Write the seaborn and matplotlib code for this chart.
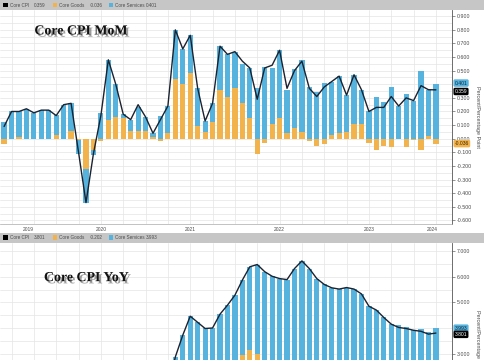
import numpy as np
import pandas as pd
import matplotlib
matplotlib.use("Agg")
import matplotlib.pyplot as plt
import seaborn as sns
from matplotlib.patches import Rectangle
from matplotlib.ticker import MultipleLocator, FixedLocator
import matplotlib.patheffects as pe

# ---------------- data ----------------
months = pd.period_range("2019-05", "2024-03", freq="M").astype(str).tolist()
years = ["2019", "2020", "2021", "2022", "2023", "2024"]

mom_core = [0.09, 0.20, 0.20, 0.22, 0.19, 0.21, 0.21, 0.17,
            0.25, 0.26, -0.10, -0.47, -0.11, 0.17, 0.58, 0.40, 0.18, 0.14, 0.25, 0.16,
            0.04, 0.14, 0.24, 0.80, 0.66, 0.76, 0.37, 0.13, 0.26, 0.68, 0.62, 0.64,
            0.57, 0.52, 0.29, 0.52, 0.54, 0.65, 0.37, 0.50, 0.57, 0.37, 0.31, 0.38,
            0.42, 0.46, 0.32, 0.47, 0.36, 0.20, 0.23, 0.23, 0.31, 0.24, 0.30, 0.28,
            0.39, 0.36, 0.359]
mom_goods = [-0.04, 0.00, 0.01, 0.00, 0.00, 0.00, 0.00, 0.025,
             0.00, 0.06, -0.01, -0.22, -0.08, -0.02, 0.14, 0.16, 0.15, 0.06, 0.06, 0.06,
             0.015, -0.02, 0.04, 0.44, 0.40, 0.48, 0.09, 0.05, 0.12, 0.36, 0.31, 0.37,
             0.26, 0.15, -0.11, -0.03, 0.11, 0.15, 0.04, 0.08, 0.05, -0.02, -0.05, -0.04,
             0.03, 0.04, 0.05, 0.11, 0.11, -0.03, -0.08, -0.05, -0.06, -0.005, -0.06, -0.01,
             -0.08, 0.02, -0.036]
mom_services = [0.12, 0.20, 0.19, 0.22, 0.19, 0.21, 0.21, 0.15,
                0.25, 0.20, -0.10, -0.25, -0.04, 0.19, 0.44, 0.24, 0.03, 0.08, 0.17, 0.10,
                0.025, 0.17, 0.20, 0.36, 0.26, 0.28, 0.28, 0.08, 0.14, 0.32, 0.31, 0.27,
                0.29, 0.37, 0.37, 0.53, 0.41, 0.50, 0.32, 0.43, 0.53, 0.38, 0.34, 0.41,
                0.39, 0.42, 0.27, 0.36, 0.25, 0.20, 0.31, 0.27, 0.38, 0.24, 0.33, 0.28,
                0.50, 0.34, 0.401]

yoy_core = [2.0, 2.1, 2.2, 2.4, 2.4, 2.3, 2.3, 2.3,
            2.3, 2.4, 2.1, 1.4, 1.2, 1.2, 1.6, 1.7, 1.7, 1.6, 1.6, 1.6,
            1.4, 1.3, 1.6, 2.87, 3.72, 4.46, 4.22, 3.98, 4.0, 4.54, 4.89, 5.28,
            5.87, 6.39, 6.48, 6.2, 6.02, 5.93, 5.89, 6.32, 6.62, 6.32, 5.93, 5.7,
            5.57, 5.52, 5.58, 5.52, 5.33, 4.85, 4.7, 4.41, 4.15, 4.02, 3.98, 3.91,
            3.87, 3.76, 3.801]
yoy_goods = [-0.1, -0.1, 0.0, 0.1, 0.1, 0.0, -0.1, -0.1,
             -0.1, -0.1, -0.3, -0.3, -0.4, -0.3, -0.1, 0.1, 0.5, 0.4, 0.4, 0.4,
             0.4, 0.3, 0.5, 1.1, 1.6, 2.0, 2.0, 2.0, 2.1, 2.3, 2.5, 2.6,
             2.95, 3.13, 3.0, 2.5, 2.2, 1.8, 1.7, 1.8, 1.6, 1.3, 0.9, 0.6,
             0.4, 0.25, 0.25, 0.5, 0.5, 0.35, 0.2, 0.02, 0.0, -0.1, -0.05, 0.05,
             -0.09, -0.09, -0.202]
yoy_services = [2.1, 2.2, 2.2, 2.3, 2.3, 2.3, 2.4, 2.4,
                2.4, 2.5, 2.4, 1.7, 1.6, 1.5, 1.7, 1.6, 1.2, 1.2, 1.2, 1.2,
                1.0, 1.0, 1.1, 1.77, 2.12, 2.46, 2.22, 1.98, 1.9, 2.24, 2.39, 2.68,
                2.92, 3.26, 3.48, 3.7, 3.82, 4.13, 4.19, 4.52, 5.02, 5.02, 5.03, 5.1,
                5.17, 5.27, 5.33, 5.02, 4.83, 4.5, 4.5, 4.39, 4.15, 4.12, 4.03, 3.86,
                3.96, 3.85, 3.993]

# ---------------- style ----------------
BLUE = "#55B3DE"
ORANGE = "#F2B24C"
LINE = "#1b2230"
GRID = "#e4e4e4"
BAR_GRAY = "#c6c6c6"
TXT = "#4a4a4a"
W, H = 485, 360

sns.set_style("white")
plt.rcParams["font.family"] = ["Liberation Sans", "DejaVu Sans"]

fig = plt.figure(figsize=(W / 100, H / 100), dpi=100)
ax1 = fig.add_axes([0, 1 - 224 / H, 452 / W, 214 / H])
ax2 = fig.add_axes([0, 1 - 457 / H, 452 / W, 214 / H])

n = len(months)
idx = np.arange(n)
df_mom = pd.DataFrame({"i": idx, "core": mom_core, "goods": mom_goods, "services": mom_services})
df_yoy = pd.DataFrame({"i": idx, "core": yoy_core, "goods": yoy_goods, "services": yoy_services})


def draw_panel(ax, df, ylim, ticks, minor_step, show_x):
    g = df["goods"].to_numpy()
    s = df["services"].to_numpy()
    bottom_s = np.where(np.sign(g) == np.sign(s), g, 0.0)
    sns.barplot(data=df, x="i", y="goods", native_scale=True, width=0.7, color=ORANGE,
                saturation=1, linewidth=0, edgecolor="none", errorbar=None, ax=ax, zorder=2)
    sns.barplot(data=df, x="i", y="services", native_scale=True, width=0.7, color=BLUE,
                saturation=1, linewidth=0, edgecolor="none", errorbar=None, ax=ax,
                bottom=bottom_s, zorder=2)
    sns.lineplot(data=df, x="i", y="core", color=LINE, lw=1.0, ax=ax, zorder=5, legend=False)

    xmin, xmax = -0.55, 60.16
    ax.set_xlim(xmin, xmax)
    ax.set_ylim(*ylim)
    ax.set_xlabel("")
    ax.set_ylabel("")

    # gridlines
    ax.yaxis.set_minor_locator(MultipleLocator(minor_step))
    ax.grid(axis="y", which="both", color=GRID, lw=0.5, zorder=0)
    for q in range(1, 61, 3):
        ax.axvline(q, color=GRID, lw=0.5, zorder=0)
    ax.set_axisbelow(True)

    # right axis
    ax.yaxis.tick_right()
    ax.yaxis.set_major_locator(FixedLocator(ticks))
    ax.set_yticklabels(["{:.3f}".format(t) for t in ticks])
    ax.tick_params(axis="y", which="major", direction="out", length=2, width=0.5,
                   colors="#666", labelsize=3.8, pad=1.5, labelcolor=TXT)
    ax.tick_params(axis="y", which="minor", length=0)

    # x axis: year labels centred in visible year span, dividers at year starts
    bounds = [xmin, 7, 19, 31, 43, 55, xmax]
    centers = [(bounds[k] + bounds[k + 1]) / 2 for k in range(len(years))]
    ax.set_xticks(centers)
    ax.set_xticklabels(years if show_x else [""] * len(years))
    ax.xaxis.set_minor_locator(FixedLocator(bounds[1:-1]))
    ax.tick_params(axis="x", which="major", length=0, labelsize=3.5, pad=2.5, labelcolor=TXT)
    ax.tick_params(axis="x", which="minor", length=6, width=0.5, color="#888", direction="out")

    for sp in ["left", "top"]:
        ax.spines[sp].set_visible(False)
    ax.spines["bottom"].set_color("#aaaaaa")
    ax.spines["bottom"].set_linewidth(0.5)
    ax.spines["right"].set_color("#555555")
    ax.spines["right"].set_linewidth(0.6)


mom_ticks = [-0.6, -0.5, -0.4, -0.3, -0.2, -0.1, 0.0, 0.1, 0.2, 0.3, 0.5, 0.6, 0.7, 0.8, 0.9]
yoy_ticks = [3.0, 5.0, 6.0, 7.0]
draw_panel(ax1, df_mom, (-0.627, 0.946), mom_ticks, 0.05, True)
draw_panel(ax2, df_yoy, (-1.04, 7.32), yoy_ticks, 0.5, False)


def value_box(ax, y, text, fc, tc):
    ax.text(1.006, y, text, transform=ax.get_yaxis_transform(), ha="left", va="center",
            fontsize=3.6, color=tc, zorder=10, clip_on=False,
            bbox=dict(boxstyle="round,pad=0.25,rounding_size=0.3", fc=fc, ec="none"))


value_box(ax1, mom_services[-1] + 0.008, f"{mom_services[-1]:.3f}", BLUE, "#10263a")
value_box(ax1, mom_core[-1] - 0.012, f"{mom_core[-1]:.3f}", "black", "white")
value_box(ax1, mom_goods[-1], f"{mom_goods[-1]:.3f}", ORANGE, "#3a2a00")
value_box(ax2, yoy_services[-1], f"{yoy_services[-1]:.3f}", BLUE, "#10263a")
value_box(ax2, yoy_core[-1] - 0.05, f"{yoy_core[-1]:.3f}", "black", "white")

# titles with drop shadow
shadow = [pe.SimplePatchShadow(offset=(1.6, -1.6), shadow_rgbFace="#777777", alpha=0.7), pe.Normal()]
ax1.text(0.179, 0.902, "Core CPI MoM", transform=ax1.transAxes, ha="center", va="center",
         fontsize=10, fontweight="bold", family="Liberation Serif", color="#111111",
         path_effects=shadow, zorder=12)
ax2.text(0.191, 0.838, "Core CPI YoY", transform=ax2.transAxes, ha="center", va="center",
         fontsize=10, fontweight="bold", family="Liberation Serif", color="#111111",
         path_effects=shadow, zorder=12)

# rotated unit labels
fig.text(478 / W, 1 - 117 / H, "Percent/Percentage Point", rotation=270, ha="center",
         va="center", fontsize=3.9, color=TXT)
fig.text(478 / W, 1 - 310 / H, "Percent/Percentage Point", rotation=270, ha="center",
         va="top", fontsize=3.9, color=TXT)


# legend bars
def legend_bar(top_px, vals):
    fig.add_artist(Rectangle((0, 1 - (top_px + 10) / H), 1, 10 / H, transform=fig.transFigure,
                             fc=BAR_GRAY, ec="none", zorder=0))
    yc = 1 - (top_px + 5.2) / H
    items = [("Core CPI", vals[0], "black", 3.5, 10, 34),
             ("Core Goods", vals[1], ORANGE, 53, 59, 90),
             ("Core Services", vals[2], BLUE, 109, 115, 146)]
    for name, v, c, sx, tx, vx in items:
        fig.add_artist(Rectangle((sx / W, yc - 2.2 / H), 4.2 / W, 4.4 / H,
                                 transform=fig.transFigure, fc=c, ec="none"))
        fig.text(tx / W, yc, name, fontsize=3.3, color=TXT, va="center", ha="left")
        fig.text(vx / W, yc, f"{v:.3f}", fontsize=3.3, color=TXT, va="center", ha="left")


legend_bar(0, [mom_core[-1], mom_goods[-1], mom_services[-1]])
legend_bar(232.5, [yoy_core[-1], yoy_goods[-1], yoy_services[-1]])

fig.savefig("out.png", dpi=100)
